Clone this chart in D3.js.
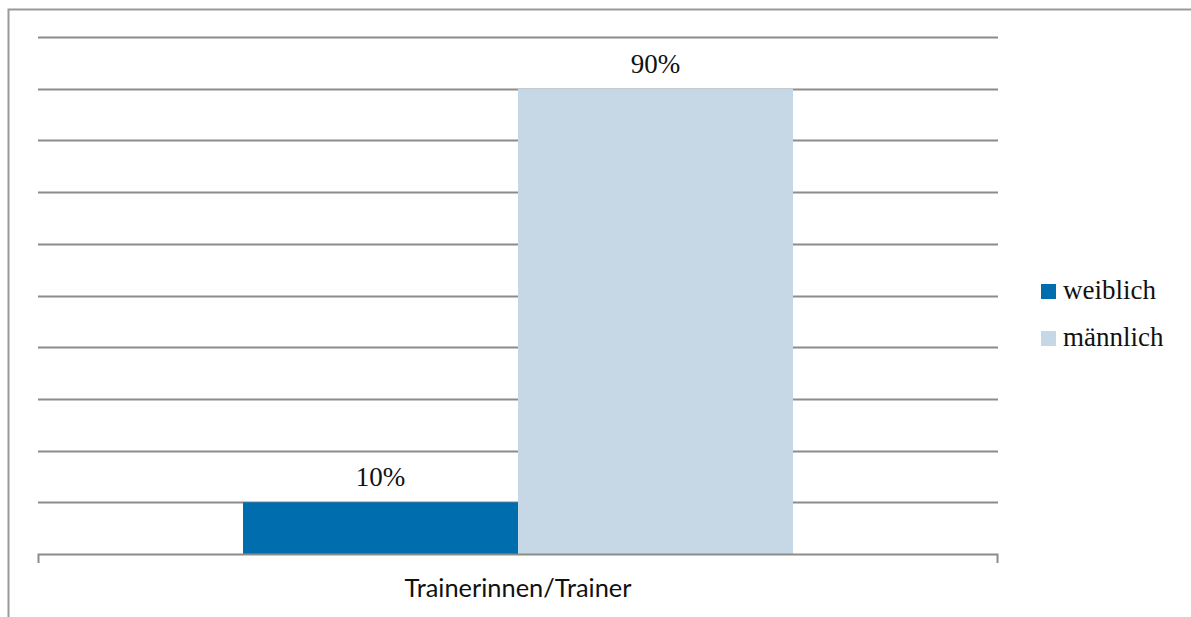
<!DOCTYPE html>
<html><head><meta charset="utf-8">
<script src="https://cdn.jsdelivr.net/npm/d3@7"></script>
<style>html,body{margin:0;padding:0;background:#fff;overflow:hidden;}svg{display:block;}</style>
</head><body>
<svg id="c" width="1191" height="617"></svg>
<script>
const categories = ["Trainerinnen/Trainer"];
const seriesNames = ["weiblich", "männlich"];
const weiblich = [0.10];
const maennlich = [0.90];
const gridTicks = [0, 0.1, 0.2, 0.3, 0.4, 0.5, 0.6, 0.7, 0.8, 0.9, 1.0];
const colors = ["#006EAE", "#C6D7E6"];
const seriesValues = [weiblich, maennlich];

const svg = d3.select("#c");
// outer frame
svg.append("rect").attr("x", 8.5).attr("y", 9.5).attr("width", 1200).attr("height", 700)
  .attr("fill", "none").attr("stroke", "#9a9a9a").attr("stroke-width", 2);

const plotL = 38, plotR = 998, plotT = 37, plotB = 554;
const y = d3.scaleLinear().domain([0, 1]).range([plotB, plotT]);
const x0 = d3.scaleBand().domain(categories).range([plotL, plotR]).paddingInner(0).paddingOuter((960/550 - 1)/2);
const x1 = d3.scaleBand().domain(seriesNames).range([0, x0.bandwidth()]).padding(0);

// gridlines
svg.append("g").selectAll("line").data(gridTicks.filter(d => d > 0)).join("line")
  .attr("x1", plotL).attr("x2", plotR)
  .attr("y1", d => Math.round(y(d)) + 0.5).attr("y2", d => Math.round(y(d)) + 0.5)
  .attr("stroke", "#8c8c8c").attr("stroke-width", 2);

// bars
categories.forEach((cat, ci) => {
  const g = svg.append("g").attr("transform", `translate(${x0(cat)},0)`);
  seriesNames.forEach((s, si) => {
    const v = seriesValues[si][ci];
    g.append("rect").attr("x", x1(s)).attr("width", x1.bandwidth())
      .attr("y", y(v)).attr("height", y(0) - y(v)).attr("fill", colors[si]);
    g.append("text").attr("x", x1(s) + x1.bandwidth()/2).attr("y", y(v) - 16)
      .attr("text-anchor", "middle").attr("font-family", "Liberation Serif, serif")
      .attr("font-size", 27).attr("fill", "#111").text(Math.round(v*100) + "%");
  });
});

// x axis
const xAxis = d3.axisBottom(x0).tickSize(0).tickPadding(0);
const ax = svg.append("g").attr("transform", `translate(0,${plotB})`);
ax.append("path").attr("d", `M${plotL+0.5},${9}V0.5H${plotR-0.5}V9`).attr("fill", "none")
  .attr("stroke", "#8c8c8c").attr("stroke-width", 2);
ax.append("g").call(xAxis).call(g => g.select(".domain").remove())
  .selectAll("text").attr("y", 43).attr("dy", 0).attr("font-family", "Lato, Liberation Sans, sans-serif")
  .attr("font-size", 25.4).attr("fill", "#111");

// legend
const lg = svg.append("g");
seriesNames.forEach((s, i) => {
  const yy = 284 + i * 47;
  lg.append("rect").attr("x", 1041).attr("y", yy).attr("width", 15).attr("height", 15).attr("fill", colors[i]);
  lg.append("text").attr("x", 1063).attr("y", yy + 15).attr("font-family", "Liberation Serif, serif")
    .attr("font-size", 27).attr("fill", "#111").text(s);
});
</script>
</body></html>
